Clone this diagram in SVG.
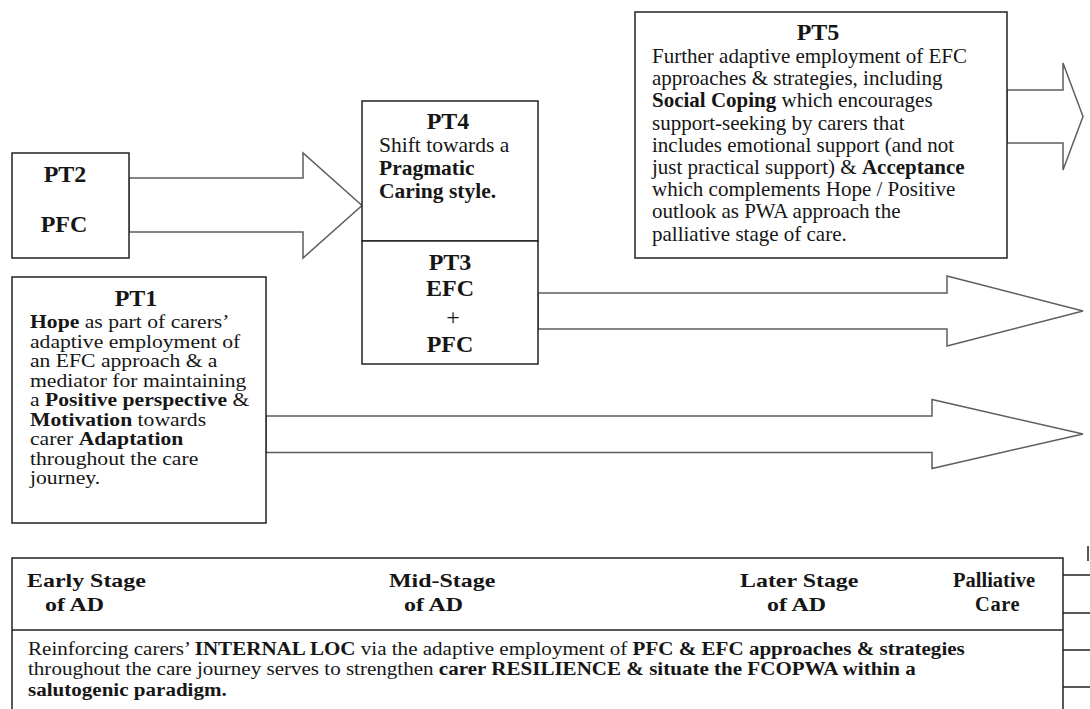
<svg xmlns="http://www.w3.org/2000/svg" width="1090" height="709" viewBox="0 0 1090 709">
<style>
  .box { fill: #fff; stroke: #222; stroke-width: 1.5; }
  .arr { fill: #fff; stroke: #5e5e5e; stroke-width: 1.5; stroke-linejoin: miter; }
  .ln { stroke: #222; stroke-width: 1.5; fill: none; }
  text { font-family: "Liberation Serif", "Times New Roman", serif; fill: #161616; }
  .t { font-size: 24px; font-weight: bold; }
  .b { font-weight: bold; }
  .p1 { font-size: 19.5px; }
  .p5 { font-size: 21px; }
  .p4 { font-size: 20.5px; }
  .hd { font-size: 18px; font-weight: bold; }
  .bt { font-size: 19.5px; }
</style>
<rect width="1090" height="709" fill="#fff"/>

<g id="connectors">
  <path class="arr" d="M129,178 H303 V153 L362,205.5 L303,258 V232 H129 Z"/>
  <path class="arr" d="M538,293 H947 V276 L1083,311 L947,346 V329 H538 Z"/>
  <path class="arr" d="M266,416 H932 V399.5 L1083,434 L932,468.5 V452.5 H266 Z"/>
  <path class="arr" d="M1007,90 H1063 V63 L1083,116.5 L1063,170 V143 H1007 Z"/>
</g>

<g id="PT2">
  <rect class="box" x="12" y="153" width="117" height="105"/>
  <text class="t" x="65" y="182" text-anchor="middle">PT2</text>
  <text class="t" x="64" y="232" text-anchor="middle">PFC</text>
</g>

<g id="PT1">
  <rect class="box" x="12" y="277" width="254" height="246"/>
  <text class="t" x="136" y="306" text-anchor="middle">PT1</text>
  <g transform="translate(30,0) scale(1.11,1)" class="p1">
    <text y="328.5"><tspan class="b">Hope</tspan> as part of carers’</text>
    <text y="348">adaptive employment of</text>
    <text y="367.5">an EFC approach &amp; a</text>
    <text y="387">mediator for maintaining</text>
    <text y="406.5">a <tspan class="b">Positive perspective</tspan> &amp;</text>
    <text y="426"><tspan class="b">Motivation</tspan> towards</text>
    <text y="445.5">carer <tspan class="b">Adaptation</tspan></text>
    <text y="465">throughout the care</text>
    <text y="484.5">journey.</text>
  </g>
</g>

<g id="PT4">
  <rect class="box" x="362" y="101" width="176" height="140"/>
  <text class="t" x="448" y="129" text-anchor="middle">PT4</text>
  <g transform="translate(379,0) scale(1.05,1)" class="p4">
    <text y="152">Shift towards a</text>
    <text y="175" class="b">Pragmatic</text>
    <text y="198" class="b">Caring style.</text>
  </g>
</g>

<g id="PT3">
  <rect class="box" x="362" y="241" width="176" height="123"/>
  <text class="t" x="450" y="270" text-anchor="middle">PT3</text>
  <text class="t" x="450" y="296" text-anchor="middle">EFC</text>
  <text x="453" y="325" text-anchor="middle" style="font-size:24px">+</text>
  <text class="t" x="450" y="352" text-anchor="middle">PFC</text>
</g>

<g id="PT5">
  <rect class="box" x="635" y="12" width="372" height="246"/>
  <text class="t" x="818" y="40" text-anchor="middle">PT5</text>
  <g transform="translate(652,0)" class="p5">
    <text y="63">Further adaptive employment of EFC</text>
    <text y="85.2">approaches &amp; strategies, including</text>
    <text y="107.4"><tspan class="b">Social Coping</tspan> which encourages</text>
    <text y="129.6">support-seeking by carers that</text>
    <text y="151.8">includes emotional support (and not</text>
    <text y="174">just practical support) &amp; <tspan class="b">Acceptance</tspan></text>
    <text y="196.2">which complements Hope / Positive</text>
    <text y="218.4">outlook as PWA approach the</text>
    <text y="240.6">palliative stage of care.</text>
  </g>
</g>

<g id="stages">
  <rect class="box" x="12" y="558" width="1051" height="170"/>
  <line class="ln" x1="12" y1="630" x2="1063" y2="630"/>
  <text class="hd" transform="translate(27,587) scale(1.33,1)">Early Stage</text>
  <text class="hd" transform="translate(45,611) scale(1.33,1)">of AD</text>
  <text class="hd" transform="translate(389,587) scale(1.33,1)">Mid-Stage</text>
  <text class="hd" transform="translate(404,611) scale(1.33,1)">of AD</text>
  <text class="hd" transform="translate(740,587) scale(1.33,1)">Later Stage</text>
  <text class="hd" transform="translate(767,611) scale(1.33,1)">of AD</text>
  <text class="b" x="953" y="587" style="font-size:20.5px">Palliative</text>
  <text class="b" x="975" y="611" style="font-size:20.5px;letter-spacing:0.6px">Care</text>
  <g transform="translate(28,0) scale(1.08,1)" class="bt">
    <text y="655">Reinforcing carers’ <tspan class="b">INTERNAL LOC</tspan> via the adaptive employment of <tspan class="b">PFC &amp; EFC approaches &amp; strategies</tspan></text>
    <text y="675">throughout the care journey serves to strengthen <tspan class="b">carer RESILIENCE &amp; situate the FCOPWA within a</tspan></text>
    <text y="696" class="b">salutogenic paradigm.</text>
  </g>
</g>

<g id="edge-right">
  <line class="ln" x1="1063" y1="575" x2="1090" y2="575"/>
  <line class="ln" x1="1063" y1="613" x2="1090" y2="613"/>
  <line class="ln" x1="1063" y1="650" x2="1090" y2="650"/>
  <line class="ln" x1="1063" y1="687" x2="1090" y2="687"/>
  <line class="ln" x1="1088" y1="546" x2="1088" y2="561"/>
</g>
</svg>
